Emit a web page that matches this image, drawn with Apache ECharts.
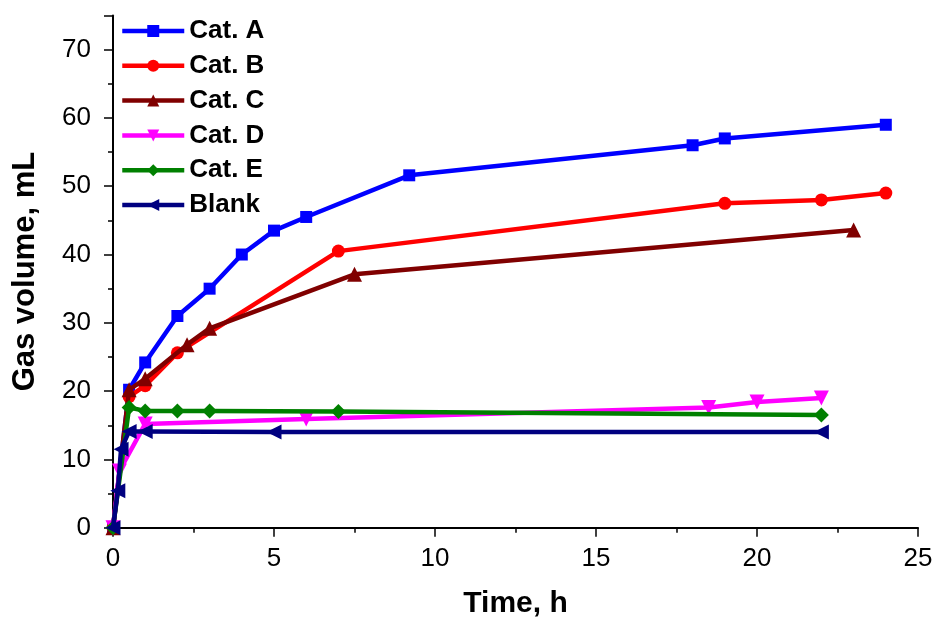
<!DOCTYPE html>
<html>
<head>
<meta charset="utf-8">
<script src="https://cdn.jsdelivr.net/npm/echarts@6/dist/echarts.min.js"></script>
<style>
html,body{margin:0;padding:0;background:#fff;}
#chart{width:938px;height:620px;}
</style>
</head>
<body>
<div id="chart"></div>
<script>
// ---- data ----
const seriesNames = ['Cat. A', 'Cat. B', 'Cat. C', 'Cat. D', 'Cat. E', 'Blank'];

const catA_t = [0, 0.5, 1, 2, 3, 4, 5, 6, 9.2, 18, 19, 24];
const catA_v = [0, 20.2, 24.2, 31, 35, 40, 43.5, 45.5, 51.6, 56, 57, 59];

const catB_t = [0, 0.5, 1, 2, 7, 19, 22, 24];
const catB_v = [0, 19.2, 20.8, 25.6, 40.5, 47.5, 48, 49];

const catC_t = [0, 0.5, 1, 2.3, 3, 7.5, 23];
const catC_v = [0, 20.2, 21.8, 26.8, 29.2, 37.1, 43.6];

const catD_t = [0, 0.2, 1, 6, 18.5, 20, 22];
const catD_v = [0, 8.3, 15.2, 15.9, 17.6, 18.4, 19];

const catE_t = [0, 0.5, 1, 2, 3, 7, 22];
const catE_v = [0, 17.6, 17.1, 17.1, 17.1, 17.0, 16.5];

const blank_t = [0, 0.15, 0.25, 0.5, 1, 5, 22];
const blank_v = [0, 5.4, 11.5, 14.1, 14.1, 14.0, 14.0];

const xTicks = [0, 5, 10, 15, 20, 25];
const yTicks = [0, 10, 20, 30, 40, 50, 60, 70];

// ---- chart ----
const FONT = '"Liberation Sans", Arial, sans-serif';
function pairs(t, v) { return t.map((x, i) => [x, v[i]]); }

const styles = [
  { color: '#0000FF', symbol: 'rect', size: 12, rotate: 0 },
  { color: '#FF0000', symbol: 'circle', size: 13, rotate: 0 },
  { color: '#800000', symbol: 'triangle', size: 15, rotate: 0 },
  { color: '#FF00FF', symbol: 'triangle', size: 15, rotate: 180 },
  { color: '#008000', symbol: 'diamond', size: 15, rotate: 0 },
  { color: '#000080', symbol: 'triangle', size: 15, rotate: 90 }
];
const dataSets = [
  pairs(catA_t, catA_v), pairs(catB_t, catB_v), pairs(catC_t, catC_v),
  pairs(catD_t, catD_v), pairs(catE_t, catE_v), pairs(blank_t, blank_v)
];

const chart = echarts.init(document.getElementById('chart'), null, { renderer: 'canvas' });

const axisLineStyle = { color: '#000', width: 2 };

chart.setOption({
  animation: false,
  backgroundColor: '#fff',
  textStyle: { fontFamily: FONT },
  grid: { left: 113, right: 20, top: 15.5, bottom: 92.3, containLabel: false, outerBoundsMode: 'none' },
  legend: {
    orient: 'vertical',
    left: 120,
    top: 18,
    padding: 0,
    itemGap: 8.8,
    itemWidth: 62,
    itemHeight: 15,
    data: seriesNames,
    lineStyle: { width: 4.5 },
    textStyle: { fontFamily: FONT, fontSize: 26, fontWeight: 'bold', color: '#000' }
  },
  xAxis: {
    type: 'value',
    min: xTicks[0],
    max: xTicks[xTicks.length - 1],
    interval: 5,
    name: 'Time, h',
    nameLocation: 'middle',
    nameGap: 61,
    nameTextStyle: { fontFamily: FONT, fontSize: 30, fontWeight: 'bold', color: '#000' },
    axisLine: { show: true, onZero: false, lineStyle: axisLineStyle },
    axisTick: { show: true, inside: false, length: 9, lineStyle: { color: '#000', width: 1.5 } },
    minorTick: { show: true, splitNumber: 2, length: 5, lineStyle: { color: '#000', width: 1.5 } },
    axisLabel: { fontFamily: FONT, fontSize: 26, color: '#000', margin: 18 },
    splitLine: { show: false },
    minorSplitLine: { show: false }
  },
  yAxis: [
    {
      type: 'value',
      min: 0,
      max: 75,
      interval: 5,
      name: 'Gas volume, mL',
      nameLocation: 'middle',
      nameGap: 72,
      nameRotate: 90,
      nameTextStyle: { fontFamily: FONT, fontSize: 31, fontWeight: 'bold', color: '#000' },
      axisLine: { show: true, onZero: false, lineStyle: axisLineStyle },
      axisTick: { show: true, inside: false, length: 5, lineStyle: { color: '#000', width: 1.5 } },
      axisLabel: {
        fontFamily: FONT, fontSize: 26, color: '#000', margin: 22,
        formatter: function (v) { return yTicks.indexOf(v) >= 0 ? String(v) : ''; }
      },
      splitLine: { show: false }
    },
    {
      type: 'value',
      min: 0,
      max: 75,
      interval: 10,
      position: 'left',
      axisLine: { show: false },
      axisTick: { show: true, inside: false, length: 9, lineStyle: { color: '#000', width: 1.5 } },
      axisLabel: { show: false },
      splitLine: { show: false }
    }
  ],
  series: seriesNames.map((name, i) => ({
    name: name,
    type: 'line',
    xAxisIndex: 0,
    yAxisIndex: 0,
    data: dataSets[i],
    symbol: styles[i].symbol,
    symbolSize: styles[i].size,
    symbolRotate: styles[i].rotate,
    showAllSymbol: true,
    clip: false,
    lineStyle: { color: styles[i].color, width: 4.5 },
    itemStyle: { color: styles[i].color },
    z: 2 + i
  }))
});
</script>
</body>
</html>
